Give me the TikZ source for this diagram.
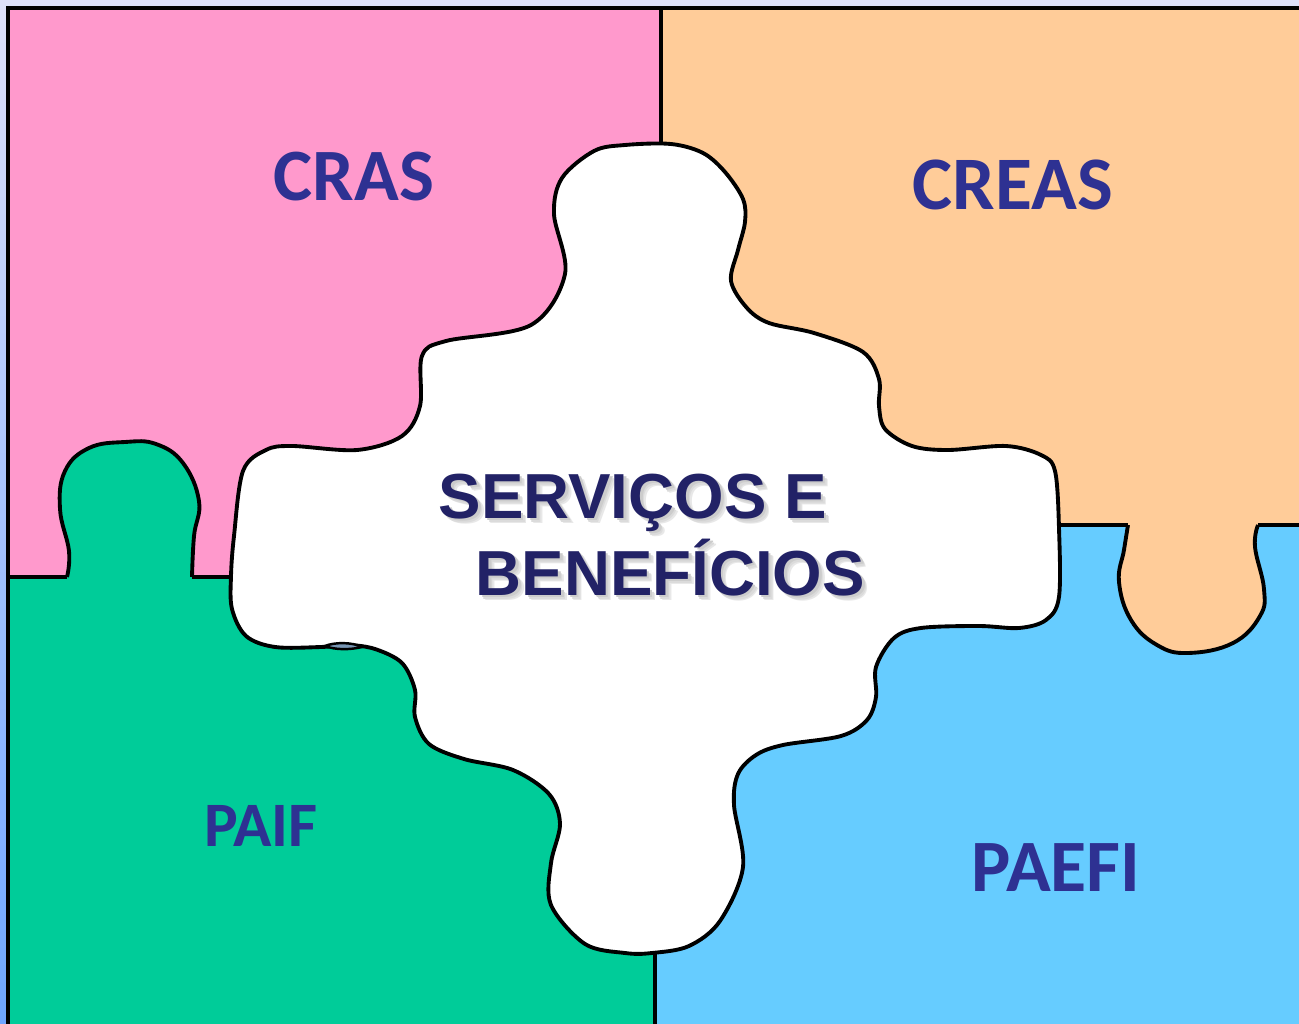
\documentclass[tikz,border=0pt]{standalone}
\usepackage{fontspec}
\newfontfamily\carlito{Carlito}
\newfontfamily\libsans{Liberation Sans}
\definecolor{pinkc}{RGB}{255,153,204}
\definecolor{orangec}{RGB}{255,204,153}
\definecolor{greenc}{RGB}{0,204,153}
\definecolor{bluec}{RGB}{102,204,255}
\definecolor{labelc}{RGB}{46,49,146}
\definecolor{titlec}{RGB}{34,34,102}
\definecolor{bgtop}{RGB}{222,225,250}
\definecolor{bgbot}{RGB}{110,165,255}
\definecolor{lensc}{RGB}{120,150,180}
\newcommand{\shtext}[1]{\makebox[0pt][l]{\hspace{1.6pt}\raisebox{-1.6pt}{\color{black!9}#1}}\makebox[0pt][l]{\hspace{1.2pt}\raisebox{-1.2pt}{\color{black!14}#1}}\makebox[0pt][l]{\hspace{0.8pt}\raisebox{-0.8pt}{\color{black!20}#1}}#1}
\begin{document}
\begin{tikzpicture}[x=0.01cm,y=-0.01cm,
  outline/.style={draw=black,line width=1.1pt,line join=round},
  divider/.style={draw=black,line width=0.9pt},
  lbl/.style={text=labelc,inner sep=0pt},
  title/.style={text=titlec,inner sep=0pt,anchor=base west,font=\libsans\bfseries\fontsize{18.1}{22}\selectfont}]
\useasboundingbox (0,0) rectangle (1299,1024);
\shade[top color=bgtop,bottom color=bgbot] (0,0) rectangle (1299,1024);
% quadrants
\fill[pinkc] (8,8) rectangle (661,577);
\fill[orangec] (661,8) rectangle (1299,525);
\fill[greenc] (8,577) rectangle (655,1024);
\fill[bluec] (655,525) rectangle (1299,1024);
% tabs
\filldraw[fill=greenc,outline] plot[smooth,tension=0.7] coordinates {(67,577) (69,551) (60,509) (65,471) (89,448) (125,442) (156,444) (183,463) (199,501) (194,536) (192,577)};
\filldraw[fill=orangec,outline] plot[smooth,tension=0.7] coordinates {(1128,525) (1124,550) (1119,582) (1131,620) (1157,645) (1188,653) (1233,643) (1260,616) (1264,589) (1255,547) (1258,525)};
% center piece
\filldraw[fill=white,outline] plot[smooth cycle,tension=0.55] coordinates {
 (594,151) (625,145) (671,144) (703,153) (725,172) (743,199) (745,222) (738,250) (731,281) (747,308) (769,323) (814,333) (863,352) (879,379) (879,406) (885,429) (912,446) (948,450) (1006,446) (1041,455) (1055,471) (1059,528) (1059,597) (1046,620) (1019,628) (979,626) (921,628) (894,638) (876,667) (876,697) (867,720) (841,736) (783,745) (756,755) (738,774) (734,805) (743,867) (720,921) (689,946) (652,953) (625,953) (585,944) (551,905) (551,863) (560,824) (549,794) (513,770) (464,759) (429,744) (415,717) (415,690) (402,663) (375,649) (348,645) (321,647) (275,647) (246,636) (232,609) (231,576) (234,536) (243,471) (266,450) (292,446) (357,450) (402,436) (420,406) (422,356) (446,341) (531,325) (565,274) (554,214) (562,178)};
% small lens on the seam
\filldraw[fill=lensc,draw=black,line width=0.7pt] (325,646) .. controls (335,642) and (352,642) .. (362,647) .. controls (350,650) and (335,650) .. cycle;
% dividers
\draw[divider] (661,8) -- (661,145);
\draw[divider] (8,577) -- (67,577) (192,577) -- (232,577);
\draw[divider] (655,953) -- (655,1024);
\draw[divider] (1059,525) -- (1128,525) (1258,525) -- (1299,525);
\draw[line width=1.2pt] (8,1024) -- (8,8) -- (1299,8);
% labels
\node[lbl,font=\carlito\bfseries\fontsize{21}{25}\selectfont] (cras) at (354,177) {CRAS};
\node[lbl,font=\carlito\bfseries\fontsize{21.5}{26}\selectfont] (creas) at (1013,185) {CREAS};
\node[lbl,font=\carlito\bfseries\fontsize{18}{22}\selectfont] (paif) at (261,826) {PAIF};
\node[lbl,font=\carlito\bfseries\fontsize{21}{25}\selectfont] (paefi) at (1056,868) {PAEFI};
\node[title] (serv1) at (438,518) {\shtext{SERVIÇOS E}};
\node[title] (serv2) at (475,595) {\shtext{BENEFÍCIOS}};
\end{tikzpicture}
\end{document}
